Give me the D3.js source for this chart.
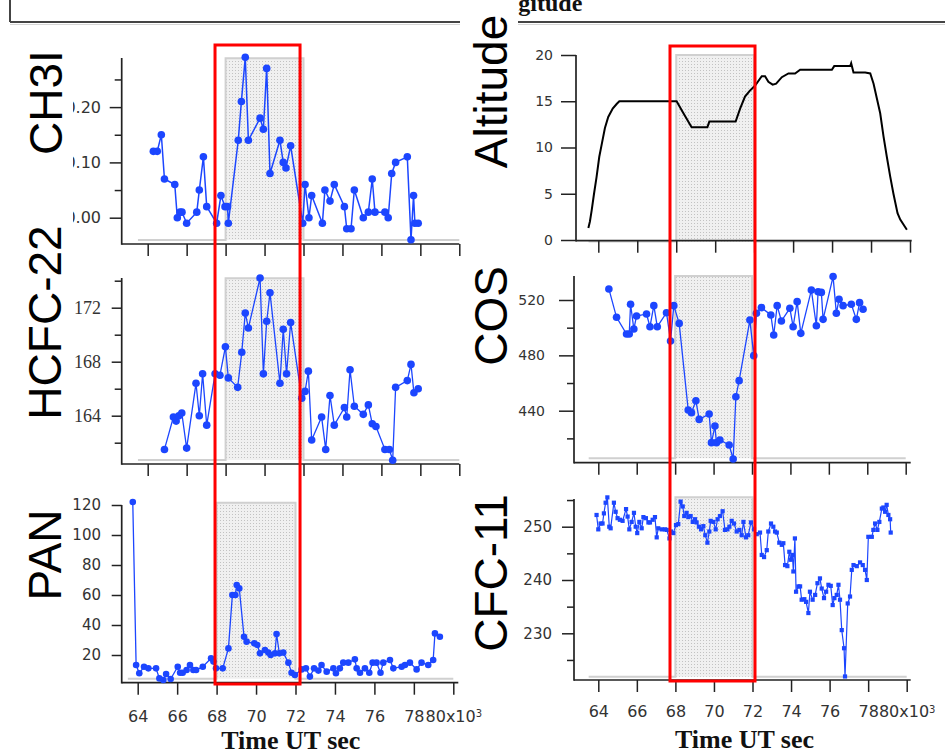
<!DOCTYPE html>
<html><head><meta charset="utf-8">
<script src="https://cdn.jsdelivr.net/npm/d3@7"></script>
<style>body{margin:0;background:#fff}svg{display:block}</style>
</head><body>
<svg id="c" width="945" height="754"></svg>
<script>
// ---------------- DATA (time in 10^3 s UT) ----------------
const xTicks = [64, 66, 68, 70, 72, 74, 76, 78, 80];
const flagTime = [63.5, 68, 72, 80];
const flagValue = [0, 1, 0, 0];

const ch3i = [[64.29,0.12],[64.49,0.12],[64.70,0.15],[64.86,0.07],[65.39,0.06],[65.52,0.00],[65.66,0.01],[65.76,0.01],[66.00,-0.01],[66.52,0.01],[66.65,0.05],[66.86,0.11],[67.03,0.02],[67.54,-0.01],[67.76,0.04],[67.97,0.02],[68.10,0.02],[68.14,-0.01],[68.65,0.14],[68.81,0.21],[69.01,0.29],[69.17,0.14],[69.77,0.18],[69.94,0.16],[70.11,0.27],[70.28,0.08],[70.79,0.14],[70.96,0.10],[71.10,0.09],[71.34,0.13],[71.96,-0.01],[72.08,0.06],[72.28,0.00],[72.42,0.04],[72.97,-0.01],[73.10,0.05],[73.36,0.03],[73.58,0.06],[74.10,0.02],[74.22,-0.02],[74.44,-0.02],[74.61,0.05],[75.07,0.00],[75.33,0.01],[75.53,0.07],[75.67,0.01],[76.18,0.01],[76.35,0.00],[76.53,0.08],[76.73,0.10],[77.33,0.11],[77.52,-0.04],[77.65,0.04],[77.72,-0.01],[77.89,-0.01]];

const hcfc22 = [[64.86,161.5],[65.32,163.9],[65.46,163.6],[65.60,164.0],[65.75,164.2],[66.00,161.6],[66.48,166.4],[66.65,164.0],[66.82,167.1],[67.03,163.3],[67.46,167.1],[67.71,167.0],[67.99,169.1],[68.14,166.8],[68.62,166.1],[68.83,168.7],[69.01,171.6],[69.17,170.5],[69.77,174.2],[69.94,167.1],[70.11,171.0],[70.28,173.1],[70.79,166.4],[70.96,170.4],[71.13,167.1],[71.34,170.9],[71.91,165.3],[72.08,165.8],[72.25,167.3],[72.42,162.2],[72.93,163.9],[73.14,161.5],[73.36,165.5],[73.58,163.3],[74.10,164.6],[74.22,163.9],[74.39,167.4],[74.61,164.7],[75.07,164.1],[75.33,164.8],[75.53,163.4],[75.72,163.2],[76.18,161.5],[76.41,161.5],[76.58,160.7],[76.73,166.1],[77.33,166.6],[77.52,167.8],[77.67,165.7],[77.89,166.0]];

const pan = [[63.75,122],[63.92,13.3],[64.08,7.8],[64.32,12.2],[64.54,11.1],[64.93,11.1],[65.10,4.4],[65.30,3.3],[65.44,7.3],[65.67,4.0],[66.03,12.2],[66.15,8.2],[66.28,8.2],[66.48,10.0],[66.65,13.3],[66.82,10.0],[66.96,10.0],[67.30,12.2],[67.72,17.8],[67.84,15.6],[67.97,11.1],[68.31,11.1],[68.60,24.4],[68.80,60.0],[68.95,60.0],[69.02,66.7],[69.15,64.4],[69.39,32.2],[69.52,28.9],[69.91,27.8],[70.06,26.7],[70.20,21.1],[70.45,23.3],[70.62,21.6],[70.74,20.0],[70.96,21.1],[71.04,34.0],[71.18,21.1],[71.38,21.6],[71.64,14.9],[71.80,8.2],[71.97,6.7],[72.31,10.4],[72.53,11.1],[72.73,5.6],[72.94,11.1],[73.16,9.6],[73.32,13.3],[73.58,8.9],[73.92,11.1],[74.05,7.8],[74.25,11.1],[74.42,14.9],[74.68,14.9],[75.01,17.1],[75.10,11.1],[75.27,8.2],[75.52,11.1],[75.74,8.2],[75.91,14.9],[76.11,14.9],[76.31,8.2],[76.45,14.9],[76.79,16.7],[76.96,11.1],[77.38,12.2],[77.55,13.3],[77.80,14.9],[78.14,10.4],[78.39,14.9],[78.73,13.3],[78.98,16.7],[79.07,34.4],[79.32,32.2]];

const altitude = [[63.49,1.3],[63.57,2.0],[63.66,3.2],[63.78,5.0],[63.91,6.8],[64.05,9.0],[64.19,10.5],[64.34,12.1],[64.51,13.3],[64.74,14.2],[64.94,14.7],[65.08,15.0],[68.02,15.0],[68.37,13.7],[68.79,12.2],[69.60,12.2],[69.70,12.8],[71.05,12.8],[71.28,14.2],[71.53,15.5],[71.76,16.1],[72.05,16.7],[72.39,17.7],[72.56,17.7],[72.73,17.1],[72.95,16.8],[73.13,16.9],[73.42,17.6],[73.76,18.0],[74.10,18.0],[74.36,18.4],[75.99,18.4],[76.11,18.8],[76.93,18.8],[76.98,19.1],[77.10,18.1],[77.70,18.1],[77.96,18.0],[78.13,16.9],[78.30,15.3],[78.47,13.7],[78.64,11.2],[78.81,9.0],[78.98,6.9],[79.15,5.0],[79.36,2.9],[79.50,2.2],[79.84,1.1]];

const cos = [[64.55,528],[64.95,507.5],[65.47,495.4],[65.61,495.4],[65.68,516.9],[65.85,499.0],[65.99,508.4],[66.51,509.9],[66.69,500.7],[66.89,515.9],[67.07,500.7],[67.55,510.8],[67.76,490.4],[67.93,515.9],[68.21,503.1],[68.68,440.5],[68.85,438.6],[69.08,447.2],[69.25,433.7],[69.77,437.6],[69.89,416.9],[70.07,428.9],[70.15,416.9],[70.33,418.8],[70.81,415.2],[71.02,405.1],[71.16,450.1],[71.33,461.7],[71.89,505.5],[72.09,479.8],[72.23,510.4],[72.49,514.5],[72.98,509.2],[73.13,494.7],[73.31,515.9],[73.53,504.8],[73.97,514.0],[74.14,500.7],[74.35,518.8],[74.54,495.9],[75.09,527.2],[75.35,501.4],[75.44,526.0],[75.61,525.5],[75.70,506.0],[76.22,536.9],[76.39,510.4],[76.53,520.5],[76.74,515.9],[77.17,516.9],[77.43,506.0],[77.60,518.1],[77.78,513.3]];

const cfc11 = [[63.91,252.2],[64.00,249.5],[64.12,250.6],[64.22,250.6],[64.29,252.5],[64.38,254.5],[64.47,255.5],[64.57,250.0],[64.64,249.7],[64.81,254.5],[64.90,252.8],[65.00,251.6],[65.12,251.3],[65.26,251.1],[65.44,253.3],[65.52,251.9],[65.61,249.5],[65.73,250.9],[65.85,252.6],[65.94,250.0],[66.02,248.8],[66.13,250.9],[66.25,249.7],[66.34,251.8],[66.47,251.6],[66.60,250.8],[66.68,250.8],[66.82,251.3],[66.94,251.8],[67.03,248.0],[67.11,249.7],[67.29,249.5],[67.46,249.5],[67.55,249.4],[67.69,247.8],[67.77,249.1],[67.89,248.8],[68.03,250.3],[68.15,250.5],[68.27,254.7],[68.38,253.8],[68.46,252.0],[68.58,252.6],[68.67,251.8],[68.79,252.0],[68.90,250.9],[69.02,251.4],[69.10,250.8],[69.22,250.0],[69.33,249.5],[69.45,250.1],[69.55,248.4],[69.66,247.0],[69.76,249.1],[69.83,251.1],[69.97,250.9],[70.09,249.5],[70.19,251.4],[70.31,252.0],[70.45,252.9],[70.57,249.4],[70.70,249.5],[70.80,250.0],[70.92,251.1],[71.04,250.6],[71.18,249.1],[71.32,249.4],[71.44,248.4],[71.53,250.9],[71.66,248.0],[71.78,248.4],[71.92,250.8],[72.08,249.5],[72.22,248.6],[72.39,248.9],[72.48,244.7],[72.60,244.3],[72.74,245.6],[72.82,249.1],[72.96,250.6],[73.08,250.0],[73.17,249.1],[73.26,248.9],[73.39,247.0],[73.52,246.6],[73.60,246.9],[73.69,242.8],[73.81,242.6],[73.91,245.3],[73.98,243.8],[74.07,244.7],[74.12,241.6],[74.20,247.8],[74.26,237.8],[74.38,238.8],[74.47,238.8],[74.55,236.3],[74.69,236.4],[74.78,235.9],[74.90,233.8],[74.98,237.8],[75.12,236.3],[75.25,237.2],[75.37,239.4],[75.50,240.3],[75.59,238.4],[75.71,236.6],[75.82,237.8],[75.94,239.1],[76.06,238.9],[76.16,235.3],[76.25,236.6],[76.37,237.2],[76.46,239.1],[76.54,236.3],[76.63,230.6],[76.75,227.2],[76.80,221.9],[76.94,235.6],[77.06,236.9],[77.15,241.9],[77.24,242.8],[77.41,242.6],[77.58,243.3],[77.72,242.8],[77.84,241.9],[77.93,240.0],[78.01,248.1],[78.19,248.1],[78.27,249.4],[78.36,250.6],[78.48,249.4],[78.58,250.9],[78.71,253.4],[78.79,253.6],[78.88,252.8],[78.96,254.1],[79.05,252.2],[79.14,251.4],[79.17,248.9]];

// red highlight windows (10^3 s, in the bottom panel's scale)
const leftWindow = [67.92, 72.23];
const rightWindow = [67.72, 72.13];

// ---------------- LAYOUT ----------------
const BLUE = '#1c46ff';
const SANS = 'DejaVu Sans, Verdana, sans-serif';
const SERIF = 'Liberation Serif, Times New Roman, serif';

const panels = [
  {name:'CH3I', data:ch3i, marker:'circle', r:3.8, lw:1.5, color:BLUE,
   axisX:121.7, axisY:244, xStart:121.7, xEnd:459.3, x64:147.7, x80:459.3,
   yDom:[0,0.2], yRng:[217.7,107.1], yTop:58, base:240, flagTop:58.3,
   major:[0,0.1,0.2], minor:[0.05,0.15,0.25], fmt:d3.format('.2f'),
   tickLen:12, minorLen:7, labelEnd:101, font:SANS, fsize:16, xLabels:false,
   lab:{x:62, y:102.5}},
  {name:'HCFC-22', data:hcfc22, marker:'circle', r:3.8, lw:1.3, color:BLUE,
   axisX:121.7, axisY:464, xStart:121.7, xEnd:459.3, x64:147.7, x80:459.3,
   yDom:[164,172], yRng:[415.7,307.7], yTop:278, base:460, flagTop:278.3,
   major:[164,168,172], minor:[162,166,170,174], fmt:d3.format('d'),
   tickLen:10, minorLen:7, labelEnd:101, font:SERIF, fsize:18, xLabels:false,
   lab:{x:61, y:322.5}},
  {name:'PAN', data:pan, marker:'circle', r:3.3, lw:1.3, color:BLUE,
   axisX:121.7, axisY:682.7, xStart:121.7, xEnd:458.3, x64:137.7, x80:453.3,
   yDom:[20,120], yRng:[655,505], yTop:505, base:678.7, flagTop:502.7,
   major:[20,40,60,80,100,120], minor:[], fmt:d3.format('d'),
   tickLen:10, minorLen:7, labelEnd:101, font:SANS, fsize:15, xLabels:true, xLabelY:716,
   title:{x:290.8, y:748.5}, lab:{x:61, y:555}},
  {name:'Altitude', data:altitude, marker:null, lw:2, color:'#000',
   axisX:576, axisY:240.7, xStart:576, xEnd:911.7, x64:598.3, x80:910,
   yDom:[0,20], yRng:[240,55], yTop:55, base:241.5, flagTop:55,
   major:[0,5,10,15,20], minor:[], fmt:d3.format('d'),
   tickLen:15, minorLen:7, labelEnd:553, font:SANS, fsize:14, xLabels:false,
   lab:{x:507, y:91.5}},
  {name:'COS', data:cos, marker:'circle', r:3.8, lw:1.3, color:BLUE,
   axisX:574, axisY:462.7, xStart:574, xEnd:910.7, x64:598.3, x80:905.7,
   yDom:[440,520], yRng:[410.7,300], yTop:276, base:458.3, flagTop:276,
   major:[440,480,520], minor:[420,460,500], fmt:d3.format('d'),
   tickLen:15, minorLen:7, labelEnd:545, font:SANS, fsize:14, xLabels:false,
   lab:{x:507, y:316}},
  {name:'CFC-11', data:cfc11, marker:'square', r:2.1, lw:1.2, color:BLUE,
   axisX:574, axisY:680, xStart:574, xEnd:910.7, x64:598.3, x80:906.7,
   yDom:[230,250], yRng:[633.3,526.7], yTop:499, base:676.7, flagTop:497.3,
   major:[230,240,250], minor:[225,235,245,255], fmt:d3.format('d'),
   tickLen:12, minorLen:7, labelEnd:552, font:SANS, fsize:15, xLabels:true, xLabelY:711.7,
   title:{x:744.5, y:748}, lab:{x:507, y:573}}
];

const svg = d3.select('#c');
const defs = svg.append('defs');
const pat = defs.append('pattern').attr('id','dots').attr('width',3).attr('height',3)
  .attr('patternUnits','userSpaceOnUse');
pat.append('rect').attr('width',3).attr('height',3).attr('fill','#f0f0f0');
pat.append('rect').attr('x',1).attr('y',1).attr('width',1).attr('height',1).attr('fill','#c2c2c2');

// top strip (partially visible box)
svg.append('line').attr('x1',10).attr('x2',945).attr('y1',24.5).attr('y2',24.5)
  .attr('stroke','#d6d6d6').attr('stroke-width',1);
svg.append('line').attr('x1',10).attr('x2',945).attr('y1',22).attr('y2',22)
  .attr('stroke','#444').attr('stroke-width',2);
svg.append('line').attr('x1',10).attr('x2',10).attr('y1',0).attr('y2',22)
  .attr('stroke','#444').attr('stroke-width',2);
svg.append('text').attr('x',477).attr('y',10.5).attr('font-family',SERIF)
  .attr('font-weight','bold').attr('font-size',24).attr('fill','#111').text('Longitude');

const scales = {};

panels.forEach(p => {
  const x = d3.scaleLinear().domain([64,80]).range([p.x64,p.x80]);
  const y = d3.scaleLinear().domain(p.yDom).range(p.yRng);
  scales[p.name] = {x, y, p};
  const g = svg.append('g');

  // flag shading (time window)
  const fy = d3.scaleLinear().domain([0,1]).range([p.base, p.flagTop]);
  const flag = flagTime.map((t,i) => [t, flagValue[i]]);
  g.append('path').datum(flag)
    .attr('d', d3.area().x(d=>x(d[0])).y0(fy(0)).y1(d=>fy(d[1])).curve(d3.curveStepAfter))
    .attr('fill','url(#dots)');
  g.append('path').datum(flag)
    .attr('d', d3.line().x(d=>x(d[0])).y(d=>fy(d[1])).curve(d3.curveStepAfter))
    .attr('fill','none').attr('stroke','#d0d0d0').attr('stroke-width',2);

  // y axis
  const ya = g.append('g').attr('transform',`translate(${p.axisX},0)`)
    .call(d3.axisLeft(y).tickValues(p.major).tickSize(p.tickLen)
      .tickPadding(p.axisX - p.tickLen - p.labelEnd).tickFormat(p.fmt));
  ya.select('.domain').remove();
  ya.selectAll('line').attr('stroke','#222').attr('stroke-width',1.5);
  ya.selectAll('text').attr('font-family',p.font).attr('font-size',p.fsize).attr('fill','#333');
  if (p.minor.length) {
    const ym = g.append('g').attr('transform',`translate(${p.axisX},0)`)
      .call(d3.axisLeft(y).tickValues(p.minor).tickSize(p.minorLen).tickFormat(''));
    ym.select('.domain').remove();
    ym.selectAll('line').attr('stroke','#222').attr('stroke-width',1.5);
  }
  g.append('line').attr('x1',p.axisX).attr('x2',p.axisX).attr('y1',p.yTop).attr('y2',p.axisY+0.8)
    .attr('stroke','#222').attr('stroke-width',1.7);

  // x axis
  const xa = g.append('g').attr('transform',`translate(0,${p.axisY})`)
    .call(d3.axisBottom(x).tickValues(xTicks).tickSize(12)
      .tickFormat(p.xLabels ? d3.format('d') : ''));
  xa.select('.domain').remove();
  xa.selectAll('line').attr('stroke','#222').attr('stroke-width',1.5);
  if (p.xLabels) {
    xa.selectAll('text').attr('font-family',SANS).attr('font-size',16).attr('fill','#333')
      .attr('y', p.xLabelY - p.axisY).attr('dy','0.36em');
    xa.selectAll('text').filter(d => d === 80).each(function(){
      const t = d3.select(this);
      t.text('80x10');
      t.append('tspan').attr('dy','-0.45em').attr('font-size',10).text('3');
    });
    g.append('text').attr('x',p.title.x).attr('y',p.title.y).attr('text-anchor','middle')
      .attr('font-family',SERIF).attr('font-weight','bold').attr('font-size',26)
      .attr('fill','#111').text('Time UT sec');
  }
  g.append('line').attr('x1',p.xStart).attr('x2',p.xEnd).attr('y1',p.axisY).attr('y2',p.axisY)
    .attr('stroke','#222').attr('stroke-width',1.7);

  // series
  g.append('path').datum(p.data)
    .attr('d', d3.line().x(d=>x(d[0])).y(d=>y(d[1])))
    .attr('fill','none').attr('stroke',p.color).attr('stroke-width',p.lw);
  if (p.marker === 'circle') {
    g.selectAll('circle.pt').data(p.data).join('circle').attr('class','pt')
      .attr('cx',d=>x(d[0])).attr('cy',d=>y(d[1])).attr('r',p.r).attr('fill',p.color);
  } else if (p.marker === 'square') {
    g.selectAll('rect.pt').data(p.data).join('rect').attr('class','pt')
      .attr('x',d=>x(d[0])-p.r).attr('y',d=>y(d[1])-p.r)
      .attr('width',2*p.r).attr('height',2*p.r).attr('fill',p.color);
  }
});

// red highlight boxes
const sPan = scales['PAN'], sCh = scales['CH3I'];
svg.append('rect').attr('x',sPan.x(leftWindow[0])).attr('y',sCh.p.yTop-13)
  .attr('width',sPan.x(leftWindow[1])-sPan.x(leftWindow[0]))
  .attr('height',(sPan.p.axisY+1.3)-(sCh.p.yTop-13))
  .attr('fill','none').attr('stroke','#ff0000').attr('stroke-width',3);
const sCfc = scales['CFC-11'], sAlt = scales['Altitude'];
svg.append('rect').attr('x',sCfc.x(rightWindow[0])).attr('y',sAlt.p.yTop-9)
  .attr('width',sCfc.x(rightWindow[1])-sCfc.x(rightWindow[0]))
  .attr('height',(sCfc.p.axisY+1)-(sAlt.p.yTop-9))
  .attr('fill','none').attr('stroke','#ff0000').attr('stroke-width',3);

// white label boxes covering parts of the figure
svg.append('rect').attr('x',0).attr('y',55).attr('width',73).attr('height',185).attr('fill','#fff');
svg.append('rect').attr('x',460).attr('y',0).attr('width',58).attr('height',175).attr('fill','#fff');

// big rotated panel labels
panels.forEach(p => {
  svg.append('text').attr('transform',`translate(${p.lab.x},${p.lab.y}) rotate(-90)`)
    .attr('text-anchor','middle').attr('font-family','Liberation Sans, Arial, sans-serif')
    .attr('font-size',46).attr('fill','#000').text(p.name);
});
</script>
</body></html>
